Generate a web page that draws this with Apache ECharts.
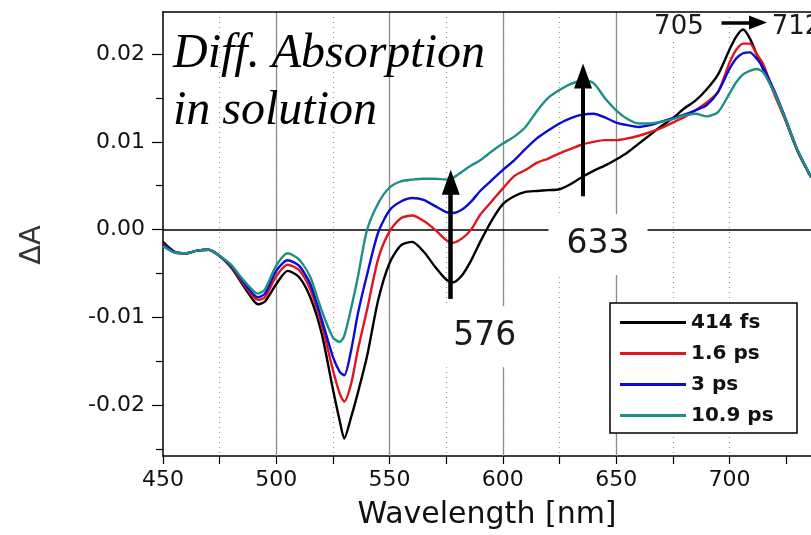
<!DOCTYPE html>
<html><head><meta charset="utf-8">
<script src="https://cdn.jsdelivr.net/npm/echarts@6/dist/echarts.min.js"></script>
<style>html,body{margin:0;padding:0;background:#fff}#c{width:811px;height:535px}</style>
</head><body><div id="c"></div>
<script>
const wavelengths = [450,455,460,465,470,475,480,485,490,492,495,500,505,510,515,520,525,528,530,533,536,540,545,550,555,560,565,570,575,578,582,586,590,595,600,605,610,615,620,625,630,635,640,645,650,655,660,665,670,675,680,685,690,695,700,703,706,709,712,715,720,725,730,736];
const fs414 = [-0.0014,-0.0025,-0.0027,-0.0024,-0.0023,-0.0030,-0.0043,-0.0062,-0.0081,-0.0085,-0.0082,-0.0062,-0.0047,-0.0054,-0.0077,-0.0118,-0.0182,-0.0218,-0.0238,-0.0214,-0.0186,-0.0145,-0.0080,-0.0038,-0.0018,-0.0014,-0.0025,-0.0042,-0.0057,-0.0060,-0.0052,-0.0035,-0.0014,0.0010,0.0029,0.0038,0.0043,0.0044,0.0045,0.0046,0.0052,0.0060,0.0067,0.0073,0.0080,0.0088,0.0098,0.0108,0.0118,0.0127,0.0138,0.0147,0.0160,0.0177,0.0205,0.0220,0.0228,0.0218,0.0200,0.0182,0.0155,0.0123,0.0090,0.0060];
const ps1_6 = [-0.0016,-0.0026,-0.0027,-0.0024,-0.0023,-0.0030,-0.0042,-0.0060,-0.0077,-0.0080,-0.0077,-0.0053,-0.0040,-0.0046,-0.0068,-0.0108,-0.0160,-0.0187,-0.0196,-0.0176,-0.0137,-0.0092,-0.0033,-0.0002,0.0013,0.0016,0.0010,0.0000,-0.0012,-0.0015,-0.0010,0.0000,0.0017,0.0032,0.0047,0.0061,0.0068,0.0076,0.0081,0.0087,0.0092,0.0097,0.0100,0.0102,0.0102,0.0104,0.0107,0.0111,0.0116,0.0122,0.0128,0.0136,0.0145,0.0157,0.0190,0.0205,0.0212,0.0212,0.0200,0.0188,0.0153,0.0123,0.0090,0.0060];
const ps3 = [-0.0017,-0.0026,-0.0027,-0.0024,-0.0023,-0.0030,-0.0041,-0.0058,-0.0074,-0.0077,-0.0073,-0.0047,-0.0035,-0.0041,-0.0062,-0.0102,-0.0145,-0.0162,-0.0166,-0.0138,-0.0096,-0.0052,-0.0003,0.0022,0.0032,0.0036,0.0034,0.0027,0.0020,0.0019,0.0023,0.0032,0.0044,0.0056,0.0068,0.0079,0.0092,0.0104,0.0113,0.0121,0.0127,0.0131,0.0132,0.0128,0.0122,0.0119,0.0117,0.0119,0.0123,0.0127,0.0131,0.0136,0.0142,0.0157,0.0183,0.0195,0.0201,0.0202,0.0195,0.0184,0.0157,0.0125,0.0091,0.0060];
const ps10_9 = [-0.0019,-0.0026,-0.0027,-0.0024,-0.0023,-0.0030,-0.0040,-0.0056,-0.0070,-0.0073,-0.0068,-0.0041,-0.0027,-0.0034,-0.0054,-0.0092,-0.0123,-0.0128,-0.0121,-0.0090,-0.0054,-0.0001,0.0030,0.0048,0.0055,0.0057,0.0058,0.0058,0.0057,0.0059,0.0066,0.0073,0.0079,0.0089,0.0098,0.0106,0.0117,0.0135,0.0150,0.0159,0.0166,0.0170,0.0167,0.0150,0.0136,0.0126,0.0121,0.0121,0.0123,0.0126,0.0130,0.0132,0.0129,0.0134,0.0155,0.0168,0.0177,0.0181,0.0183,0.0179,0.0155,0.0124,0.0091,0.0060];

const seriesNames = ['414 fs','1.6 ps','3 ps','10.9 ps'];
const seriesColors = ['#000000','#e0161c','#0c0cd0','#1f8f86'];
const seriesValues = [fs414, ps1_6, ps3, ps10_9];

const xMajorTicks = [450,500,550,600,650,700];
const xMinorTicks = [450,475,500,525,550,575,600,625,650,675,700,725];
const yMajorTicks = [-0.02,-0.01,0,0.01,0.02];
const yMinorTicks = [-0.025,-0.015,-0.005,0.005,0.015];

// annotations (data coordinates)
const arrows = [
  {from:[577,-0.0079], to:[577,0.0054], width:4.5, head:[18,25]},
  {from:[635.4,0.0038], to:[635.4,0.0175], width:4, head:[18,25]},
  {from:[696.5,0.0236], to:[712.6,0.0236], width:3.5, head:[14,18]}
];
const labels = [
  {text:'576', at:[592,-0.0122], size:33, pad:[14,10,14,10]},
  {text:'633', at:[642,-0.0017], size:33, pad:[14,18,14,18]},
  {text:'705', at:[677.7,0.0231], size:26, pad:[0,3,0,3]},
  {text:'712', at:[729.6,0.0231], size:26, pad:[0,3,0,3]}
];

const SANS = '"DejaVu Sans", sans-serif';
const chart = echarts.init(document.getElementById('c'), null, {renderer:'canvas'});

const series = seriesNames.map((name, i) => ({
  name, type:'line', xAxisIndex:0, yAxisIndex:0,
  data: wavelengths.map((w, k) => [w, seriesValues[i][k]]),
  showSymbol:false, smooth:0.25,
  lineStyle:{color:seriesColors[i], width:2.4},
  itemStyle:{color:seriesColors[i]},
  z: 2 + i
}));

series[0].markLine = {
  silent:true, symbol:['none','none'], z:1,
  label:{show:false},
  lineStyle:{color:'#000', width:1.5, type:'solid'},
  data:[{yAxis:0}]
};
series[3].markLine = {
  silent:true, z:8,
  label:{show:false},
  data: arrows.map(a => [
    {coord:a.from, symbol:'none', lineStyle:{color:'#000', width:a.width, type:'solid'}},
    {coord:a.to, symbol:'triangle', symbolSize:a.head}
  ]),
  lineStyle:{color:'#000', type:'solid'},
  itemStyle:{color:'#000'}
};
series[3].markPoint = {
  silent:true, z:9,
  symbol:'circle', symbolSize:1,
  itemStyle:{color:'rgba(0,0,0,0)'},
  data: labels.map(l => ({
    name:l.text, coord:l.at,
    label:{show:true, position:'inside', formatter:'{b}', color:'#1a1a1a',
      fontFamily:SANS, fontSize:l.size, backgroundColor:'#fff', padding:l.pad}
  }))
};

chart.setOption({
  backgroundColor:'#fff',
  animation:false,
  grid:{left:163, right:0, top:12, bottom:75, containLabel:false},
  legend:{
    data:seriesNames, orient:'vertical', left:610, top:303,
    backgroundColor:'#fff', borderColor:'#000', borderWidth:1.5,
    padding:[9,7,7,10], itemGap:10, itemWidth:66, itemHeight:3, icon:'rect',
    textStyle:{fontFamily:SANS, fontSize:20, fontWeight:'bold', color:'#111', lineHeight:21, width:99},
    selectedMode:false
  },
  xAxis:[
    {type:'value', position:'bottom', min:450, max:736, interval:25,
     axisLine:{onZero:false, lineStyle:{color:'#000', width:1.5}},
     axisTick:{show:true, inside:false, length:8, customValues:xMinorTicks, lineStyle:{color:'#000', width:1.2}},
     axisLabel:{customValues:xMajorTicks, formatter:v => (v % 50 === 0 ? String(v) : ''),
       fontFamily:SANS, fontSize:22, color:'#111', margin:13},
     splitLine:{show:true, showMinLine:false, showMaxLine:false, lineStyle:{color:'#9a9a9a', width:1.2, type:[1,4]}},
     name:'Wavelength [nm]', nameLocation:'middle', nameGap:44,
     nameTextStyle:{fontFamily:SANS, fontSize:30, color:'#111'}, z:0},
    {type:'value', position:'top', min:450, max:736, interval:50,
     axisLine:{onZero:false, lineStyle:{color:'#000', width:1.5}},
     axisTick:{show:false, customValues:xMajorTicks},
     axisLabel:{show:false, customValues:xMajorTicks},
     splitLine:{show:true, showMinLine:false, showMaxLine:false, lineStyle:{color:'#8c8c8c', width:1.3, type:'solid'}}, z:1}
  ],
  yAxis:[
    {type:'value', position:'left', min:-0.0258, max:0.0248,
     axisLine:{onZero:false, lineStyle:{color:'#000', width:1.5}},
     axisTick:{show:true, inside:false, length:11, customValues:yMajorTicks, lineStyle:{color:'#000', width:1.2}},
     axisLabel:{customValues:yMajorTicks, formatter:v => v.toFixed(2),
       fontFamily:SANS, fontSize:22, color:'#111', margin:18},
     splitLine:{show:false}, z:2},
    {type:'value', position:'left', min:-0.0258, max:0.0248,
     axisLine:{show:false, onZero:false},
     axisTick:{show:true, inside:false, length:7, customValues:yMinorTicks, lineStyle:{color:'#000', width:1.2}},
     axisLabel:{show:false, customValues:yMinorTicks},
     splitLine:{show:false}, z:2}
  ],
  graphic:[
    {type:'text', x:173, y:26, z:20, silent:true,
     style:{text:'Diff. Absorption\nin solution', font:'italic 48px "Liberation Serif", serif',
       fill:'#000', lineHeight:57, verticalAlign:'top', align:'left'}},
    {type:'text', x:32, y:245, rotation:Math.PI/2, z:20, silent:true,
     style:{text:'ΔA', font:'29px "DejaVu Sans", sans-serif', fill:'#333', align:'center', verticalAlign:'middle'}}
  ],
  series
});
</script>
</body></html>
